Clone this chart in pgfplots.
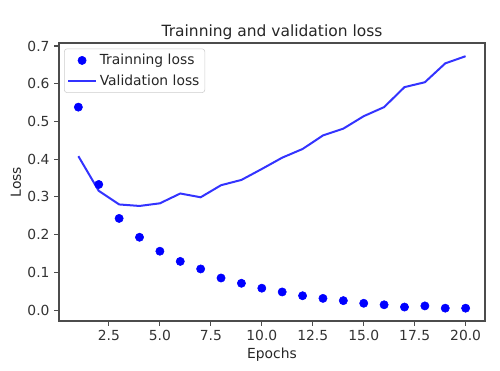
\documentclass[border=0pt]{standalone}
\usepackage{fontspec}
\setmainfont{DejaVu Sans}
\usepackage{pgfplots}
\pgfplotsset{compat=1.18}
\begin{document}
\begin{tikzpicture}[font=\fontsize{10.4pt}{12pt}\selectfont]
\begin{axis}[
  scale only axis,
  width=319.5pt, height=208.5pt,
  xmin=0.05, xmax=20.95,
  ymin=-0.029, ymax=0.708,
  xtick={2.5,5,7.5,10,12.5,15,17.5,20},
  ytick={0,0.1,0.2,0.3,0.4,0.5,0.6,0.7},
  xticklabel style={/pgf/number format/.cd,fixed,fixed zerofill,precision=1},
  yticklabel style={/pgf/number format/.cd,fixed,fixed zerofill,precision=1},
  /pgf/number format/assume math mode=true,
  ticklabel style={text=black!80},
  tick align=outside,
  major tick length=3.6pt,
  xtick pos=bottom, ytick pos=left,
  axis line style={line width=0.83pt, black!70},
  tick style={line width=0.83pt,black!70},
  title={\fontsize{11.6pt}{14pt}\selectfont Trainning and validation loss},
  title style={yshift=-7pt, text=black!85},
  xlabel={Epochs}, ylabel={Loss},
  label style={text=black!85},
  xlabel style={yshift=2pt}, ylabel style={yshift=-2pt},
  legend style={draw=black!20, rounded corners=2pt, font=\fontsize{10.4pt}{12pt}\selectfont,
    at={(0.012,0.98)}, anchor=north west, inner sep=2pt, row sep=2pt, text=black!85},
  legend cell align=left,
  legend image code/.code={\draw[mark repeat=2,mark phase=2,#1] plot coordinates {(0cm,0cm)(0.37cm,0cm)(0.74cm,0cm)};},
]
\addplot[only marks, mark=*, mark size=3.1pt, color=blue] coordinates {
(1,0.538)(2,0.333)(3,0.243)(4,0.193)(5,0.156)(6,0.129)(7,0.109)(8,0.085)(9,0.071)(10,0.058)
(11,0.048)(12,0.038)(13,0.031)(14,0.025)(15,0.018)(16,0.014)(17,0.008)(18,0.011)(19,0.005)(20,0.005)};
\addlegendentry{Trainning loss}
\addplot[color=blue!80!white, line width=1.5pt, no marks] coordinates {
(1,0.408)(2,0.316)(3,0.280)(4,0.276)(5,0.283)(6,0.309)(7,0.299)(8,0.331)(9,0.345)(10,0.374)
(11,0.404)(12,0.427)(13,0.463)(14,0.481)(15,0.514)(16,0.538)(17,0.591)(18,0.604)(19,0.654)(20,0.673)};
\addlegendentry{Validation loss}
\end{axis}
\path (-44.25pt,-37.5pt) rectangle (330.75pt,240.75pt);
\end{tikzpicture}
\end{document}
